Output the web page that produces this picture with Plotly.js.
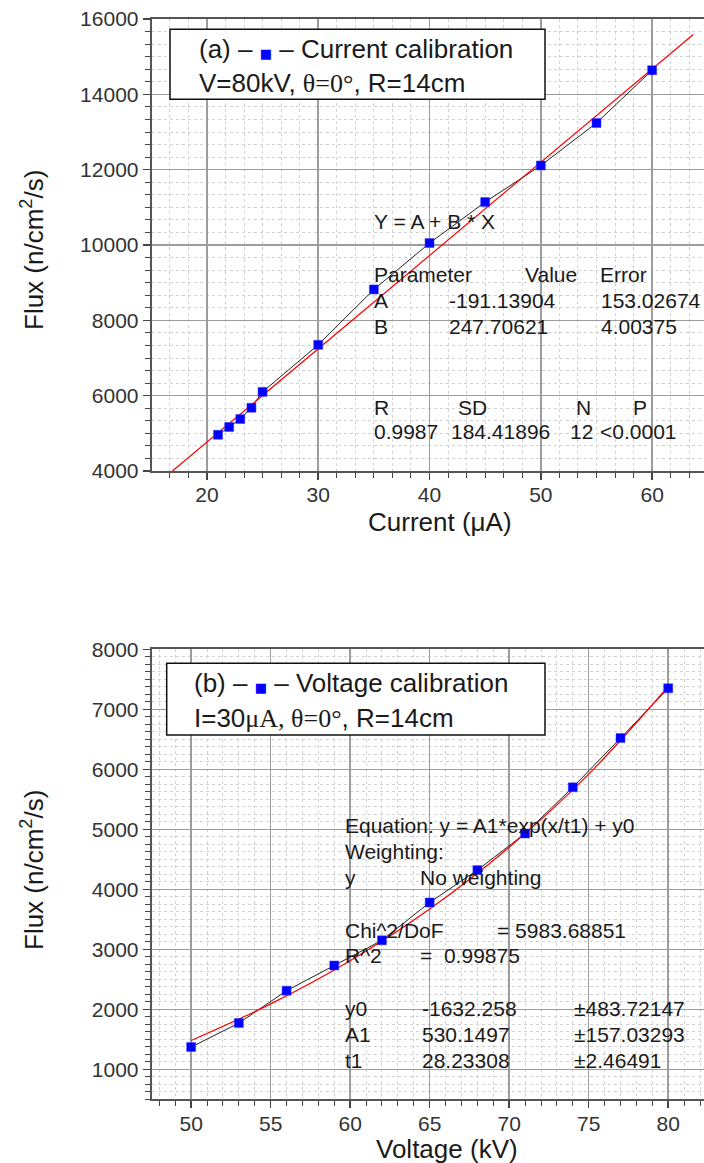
<!DOCTYPE html>
<html>
<head>
<meta charset="utf-8">
<script src="https://cdn.plot.ly/plotly-3.0.1.min.js"></script>
<style>html,body{margin:0;padding:0;background:#fff;}</style>
</head>
<body>
<div id="chart" style="width:704px;height:1163px;"></div>
<script>
// ---- data (a) current calibration ----
const currentUA = [21, 22, 23, 24, 25, 30, 35, 40, 45, 50, 55, 60];
const currentFlux = [4960, 5170, 5380, 5680, 6100, 7350, 8820, 10050, 11140, 12110, 13240, 14640];
const currentFitX = [16.9, 63.7];
const currentFitY = [4000, 15590];

// ---- data (b) voltage calibration ----
const voltageKV = [50, 53, 56, 59, 62, 65, 68, 71, 74, 77, 80];
const voltageFlux = [1370, 1770, 2310, 2730, 3150, 3780, 4320, 4930, 5700, 6520, 7350];
const voltageFitX = [50, 55, 60, 65, 70, 75, 80];
const voltageFitY = [1480, 2090, 2810, 3670, 4700, 5920, 7380];

// ---- text ----
const xTitleA = 'Current (\u03BCA)';
const xTitleB = 'Voltage (kV)';
const yTitle = 'Flux (n/cm<sup>2</sup>/s)';

const W = 704, H = 1163;
const SERIF = "font-family:'Liberation Serif','Times New Roman',serif";
const SQ = "<span style=\"color:#0000ff;font-size:13px;font-family:'DejaVu Sans'\">\u25A0</span>";

function px(x) { return x / W; }
function py(y) { return 1 - y / H; }

const markerStyle = {symbol: 'square', size: 9, color: '#0000ff', line: {color: '#3a3aff', width: 0.5}};

const traces = [
  {x: currentUA, y: currentFlux, xaxis: 'x', yaxis: 'y', mode: 'lines', line: {color: '#222', width: 1}},
  {x: currentFitX, y: currentFitY, xaxis: 'x', yaxis: 'y', mode: 'lines', line: {color: '#ff0000', width: 1.2}},
  {x: currentUA, y: currentFlux, xaxis: 'x', yaxis: 'y', mode: 'markers', marker: markerStyle},
  {x: voltageKV, y: voltageFlux, xaxis: 'x2', yaxis: 'y2', mode: 'lines', line: {color: '#222', width: 1}},
  {x: voltageFitX, y: voltageFitY, xaxis: 'x2', yaxis: 'y2', mode: 'lines', line: {color: '#ff0000', width: 1.2, shape: 'spline'}},
  {x: voltageKV, y: voltageFlux, xaxis: 'x2', yaxis: 'y2', mode: 'markers', marker: markerStyle}
];

function axisBase(extra) {
  return Object.assign({
    showline: true, linecolor: '#555', linewidth: 2,
    ticks: 'outside', ticklen: 7, tickwidth: 1.5, tickcolor: '#444',
    showgrid: true, gridcolor: '#9c9c9c', gridwidth: 1.5,
    zeroline: false, tickfont: {size: 21, color: '#333'},
    tickformat: 'd', fixedrange: true
  }, extra);
}
function minor(dt) {
  return {dtick: dt, ticks: 'outside', ticklen: 5, tickwidth: 1, tickcolor: '#444',
          showgrid: true, gridcolor: '#d2d2d2', griddash: 'dot', gridwidth: 1};
}

const axL = 151.7;
const layout = {
  width: W, height: H,
  margin: {l: 0, r: 0, t: 0, b: 0, pad: 0},
  paper_bgcolor: '#fff', plot_bgcolor: '#fff',
  showlegend: false,
  font: {family: "'Liberation Sans', Arial, sans-serif", color: '#222'},
  xaxis: axisBase({domain: [px(axL), 1], range: [15.04, 64.66], dtick: 10, tick0: 0, mirror: true, anchor: 'y', ticklabelstandoff: -3, minor: minor(10 / 6)}),
  yaxis: axisBase({domain: [py(471), py(19)], range: [4000, 16000], dtick: 2000, tick0: 0, anchor: 'x', minor: minor(2000 / 6)}),
  xaxis2: axisBase({domain: [px(axL), 1], range: [47.52, 82.25], dtick: 5, tick0: 0, mirror: true, anchor: 'y2', ticklabelstandoff: -3, minor: minor(1)}),
  yaxis2: axisBase({domain: [py(1099.3), py(649.3)], range: [500, 8000], dtick: 1000, tick0: 0, anchor: 'x2', minor: minor(125)}),
  shapes: [
    {type: 'rect', xref: 'paper', yref: 'paper', x0: px(170), x1: px(545), y0: py(99.3), y1: py(29.3),
     line: {color: '#111', width: 1.5}, fillcolor: '#fff', layer: 'above'},
    {type: 'rect', xref: 'paper', yref: 'paper', x0: px(166.7), x1: px(545), y0: py(735), y1: py(663.3),
     line: {color: '#111', width: 1.5}, fillcolor: '#fff', layer: 'above'}
  ],
  annotations: []
};

function ann(text, x, y, size, opts) {
  layout.annotations.push(Object.assign({
    text: text, xref: 'paper', yref: 'paper', x: px(x), y: py(y),
    xanchor: 'left', yanchor: 'middle', showarrow: false,
    font: {size: size, color: '#1a1a1a'}
  }, opts || {}));
}

// legends
ann('(a) \u2013 ' + SQ + ' \u2013 Current calibration', 196.7, 49, 26);
ann('V=80kV, <span style="' + SERIF + '">\u03B8=0\u00B0</span>, R=14cm', 196.7, 83, 26);
ann('(b) \u2013 ' + SQ + ' \u2013 Voltage calibration', 191.7, 683.3, 26);
ann('I=30<span style="' + SERIF + '">\u03BCA, \u03B8=0\u00B0</span>, R=14cm', 191.7, 718.3, 26);

// axis titles
ann(xTitleA, 440, 522, 26, {xanchor: 'center'});
ann(xTitleB, 447, 1149, 26, {xanchor: 'center'});
ann(yTitle, 32, 250, 26, {xanchor: 'center', textangle: -90});
ann(yTitle, 32, 870, 26, {xanchor: 'center', textangle: -90});

// fit stats (a)
const S = 21;
ann('Y = A + B * X', 371.7, 221.7, S);
ann('Parameter', 371.7, 274, S); ann('Value', 523.3, 274, S); ann('Error', 598.3, 274, S);
ann('A', 371.7, 300, S); ann('-191.13904', 446.7, 300, S); ann('153.02674', 599.3, 300, S);
ann('B', 371.7, 326.7, S); ann('247.70621', 446.7, 326.7, S); ann('4.00375', 599.3, 326.7, S);
ann('R', 371.7, 407.3, S); ann('SD', 472.7, 407.3, S, {xanchor: 'center'});
ann('N', 583.3, 407.3, S, {xanchor: 'center'}); ann('P', 640, 407.3, S, {xanchor: 'center'});
ann('0.9987', 371.7, 431.7, S); ann('184.41896', 449, 431.7, S); ann('12', 568.3, 431.7, S); ann('&lt;0.0001', 598.3, 431.7, S);

// fit stats (b)
ann('Equation: y = A1*exp(x/t1) + y0', 343.3, 825, S);
ann('Weighting:', 343.3, 851.7, S);
ann('y', 343.3, 877.3, S); ann('No weighting', 418.3, 877.3, S);
ann('Chi^2/DoF', 343.3, 930, S); ann('= 5983.68851', 495, 930, S);
ann('R^2', 343.3, 955, S); ann('=  0.99875', 418.3, 955, S);
ann('y0', 343.3, 1008.3, S); ann('-1632.258', 420, 1008.3, S); ann('\u00B1483.72147', 571.7, 1008.3, S);
ann('A1', 343.3, 1034, S); ann('530.1497', 420, 1034, S); ann('\u00B1157.03293', 571.7, 1034, S);
ann('t1', 343.3, 1060, S); ann('28.23308', 420, 1060, S); ann('\u00B12.46491', 571.7, 1060, S);

Plotly.newPlot('chart', traces, layout, {staticPlot: true, displayModeBar: false});
</script>
</body>
</html>
